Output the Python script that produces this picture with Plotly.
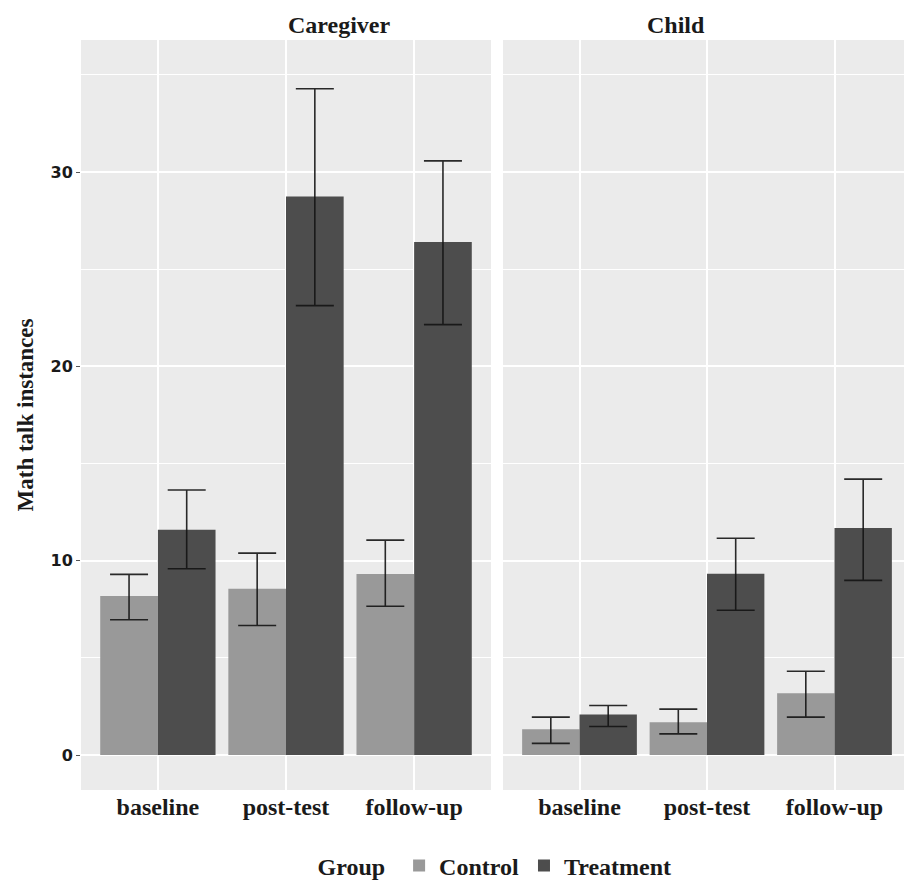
import plotly.graph_objects as go

phases = ["baseline", "post-test", "follow-up"]
panels = ["Caregiver", "Child"]
groups = ["Control", "Treatment"]

# means
cg_control = [8.19, 8.56, 9.32]
cg_treatment = [11.59, 28.75, 26.41]
ch_control = [1.33, 1.69, 3.18]
ch_treatment = [2.09, 9.33, 11.68]
# upper / lower error bounds
cg_control_hi = [9.30, 10.39, 11.06]
cg_control_lo = [6.96, 6.67, 7.66]
cg_treatment_hi = [13.64, 34.29, 30.58]
cg_treatment_lo = [9.59, 23.13, 22.15]
ch_control_hi = [1.95, 2.36, 4.31]
ch_control_lo = [0.60, 1.09, 1.95]
ch_treatment_hi = [2.55, 11.16, 14.20]
ch_treatment_lo = [1.47, 7.45, 8.99]

y_ticks = [0, 10, 20, 30]

colors = {"Control": "#999999", "Treatment": "#4d4d4d"}
SERIF = "Liberation Serif"
INK = "#1a1a1a"

data = {
    "Caregiver": {
        "Control": (cg_control, cg_control_hi, cg_control_lo),
        "Treatment": (cg_treatment, cg_treatment_hi, cg_treatment_lo),
    },
    "Child": {
        "Control": (ch_control, ch_control_hi, ch_control_lo),
        "Treatment": (ch_treatment, ch_treatment_hi, ch_treatment_lo),
    },
}

fig = go.Figure()
for pi, panel in enumerate(panels):
    xa = "x" if pi == 0 else "x2"
    ya = "y" if pi == 0 else "y2"
    for g in groups:
        m, hi, lo = data[panel][g]
        fig.add_trace(go.Bar(
            x=phases, y=m, name=g, xaxis=xa, yaxis=ya,
            marker=dict(color=colors[g], line=dict(width=0)),
            offsetgroup=g, legendgroup=g, showlegend=(pi == 0),
            error_y=dict(type="data", symmetric=False,
                         array=[h - v for h, v in zip(hi, m)],
                         arrayminus=[v - l for v, l in zip(m, lo)],
                         color="rgba(20,20,20,0.9)", thickness=1.6, width=19),
        ))

# the page body has an 8px margin: the figure is shifted by (8, 8)
OFF = 8
W, H = 912 - OFF, 882 - OFF
ml, mr, mt, mb = 81 - OFF, 1, 40 - OFF, 92
pw = W - ml - mr
left_end = (491 - 81) / pw
right_start = (503 - 81) / pw

xcommon = dict(type="category", range=[-0.6, 2.6], showgrid=True,
               gridcolor="white", gridwidth=1.5, showline=False,
               ticks="", zeroline=False, automargin=False,
               tickfont=dict(family=SERIF, size=24, color=INK, weight="bold"))
ycommon = dict(range=[-1.8, 36.8], tickvals=y_ticks, showgrid=True,
               gridcolor="white", gridwidth=1.5, zeroline=False, automargin=False,
               minor=dict(dtick=5, tick0=0, showgrid=True, gridcolor="white",
                          gridwidth=0.7, ticks=""))

fig.update_layout(
    width=W, height=H,
    margin=dict(l=ml, r=mr, t=mt, b=mb, autoexpand=False),
    paper_bgcolor="white", plot_bgcolor="#ebebeb",
    barmode="group", bargap=0.1, bargroupgap=0,
    xaxis=dict(domain=[0, left_end], anchor="y", **xcommon),
    xaxis2=dict(domain=[right_start, 1], anchor="y2", **xcommon),
    yaxis=dict(anchor="x", ticks="outside", ticklen=4, tickcolor="#555",
               tickfont=dict(family="DejaVu Sans", size=16, color=INK, weight="bold"),
               title=dict(text="Math talk instances", standoff=10,
                          font=dict(family=SERIF, size=23, color=INK, weight="bold")),
               **ycommon),
    yaxis2=dict(anchor="x2", matches="y", showticklabels=False, ticks="", **ycommon),
    legend=dict(orientation="h", x=0.5, xanchor="center",
                yref="container", y=(882 - 866) / H, yanchor="middle",
                title=dict(text="Group ", font=dict(family=SERIF, size=24, color=INK, weight="bold")),
                font=dict(family=SERIF, size=24, color=INK, weight="bold"),
                itemwidth=30, tracegroupgap=0),
    annotations=[
        dict(text=panels[0], x=left_end / 2, y=1, xref="paper", yref="paper",
             yanchor="bottom", yshift=0, showarrow=False,
             font=dict(family=SERIF, size=24, color=INK, weight="bold")),
        dict(text=panels[1], x=(right_start + 1) / 2, y=1, xref="paper", yref="paper",
             yanchor="bottom", yshift=0, showarrow=False,
             font=dict(family=SERIF, size=24, color=INK, weight="bold")),
    ],
    showlegend=True,
)

fig.write_html("out.html")
